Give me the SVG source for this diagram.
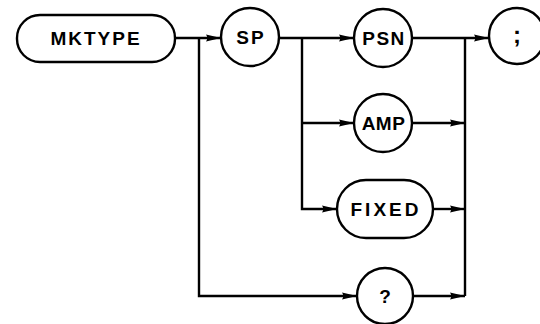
<svg xmlns="http://www.w3.org/2000/svg" width="540" height="324" viewBox="0 0 540 324">
<style>
.n{fill:#fff;stroke:#000;stroke-width:2.4}
.c{fill:none;stroke:#000;stroke-width:2.4}
.t{font-family:"Liberation Sans",Arial,sans-serif;font-weight:bold;font-size:19px;letter-spacing:2px;text-anchor:middle;fill:#000}
</style>
<defs>
<marker id="ah" markerUnits="userSpaceOnUse" markerWidth="16" markerHeight="10" refX="15" refY="5" orient="auto">
<path d="M0,1.5 L15,5 L0,8.5 Q2.5,5 0,1.5 z" fill="#000"/>
</marker>
</defs>
<g id="connectors">
<path class="c" d="M175,38 H221" marker-end="url(#ah)"/>
<path class="c" d="M199,38 V296 H357" marker-end="url(#ah)"/>
<path class="c" d="M279,38 H354" marker-end="url(#ah)"/>
<path class="c" d="M302,38 V209 H337" marker-end="url(#ah)"/>
<path class="c" d="M302,123 H354" marker-end="url(#ah)"/>
<path class="c" d="M412,38 H489" marker-end="url(#ah)"/>
<path class="c" d="M465,38 V296"/>
<path class="c" d="M412,123 H465" marker-end="url(#ah)"/>
<path class="c" d="M433,209 H465" marker-end="url(#ah)"/>
<path class="c" d="M413,296 H465" marker-end="url(#ah)"/>
</g>
<g id="mktype"><rect class="n" x="17" y="15" width="158" height="47" rx="23"/><text class="t" x="96" y="45">MKTYPE</text></g>
<g id="sp"><circle class="n" cx="250" cy="37" r="29"/><text class="t" x="251" y="44">SP</text></g>
<g id="psn"><circle class="n" cx="383" cy="38" r="29"/><text class="t" x="384" y="45" style="letter-spacing:1.5px">PSN</text></g>
<g id="semi"><circle class="n" cx="517" cy="36" r="28"/><text class="t" x="518" y="43" style="font-size:24px">;</text></g>
<g id="amp"><circle class="n" cx="383" cy="123" r="29"/><text class="t" x="383.5" y="130" style="letter-spacing:0.5px">AMP</text></g>
<g id="fixed"><rect class="n" x="337" y="180" width="96" height="58" rx="29"/><text class="t" x="386" y="216" style="letter-spacing:3px">FIXED</text></g>
<g id="query"><circle class="n" cx="385" cy="296" r="28"/><text class="t" x="386" y="303">?</text></g>
</svg>
